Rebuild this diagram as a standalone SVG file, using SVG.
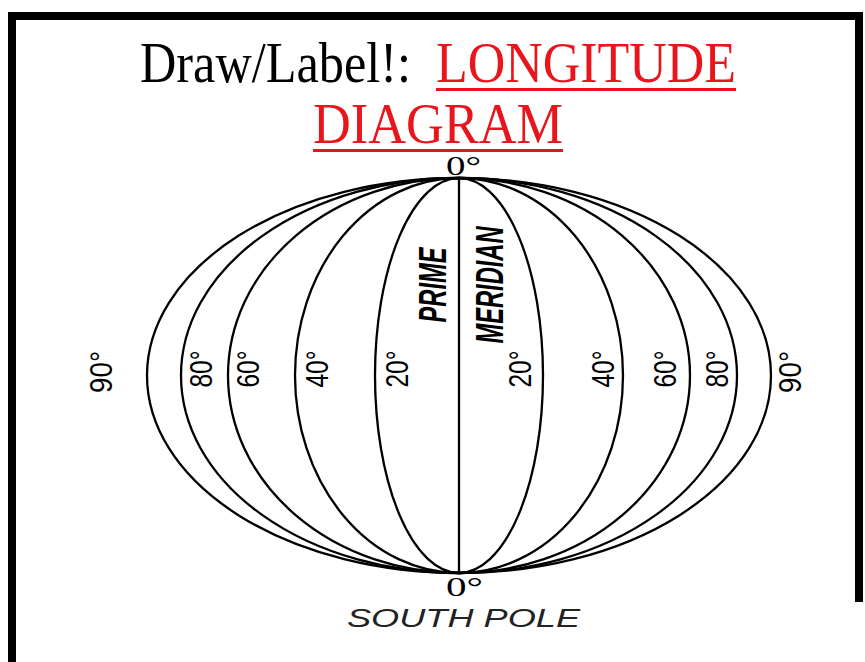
<svg xmlns="http://www.w3.org/2000/svg" width="865" height="662" viewBox="0 0 865 662">
<style>
.m{fill:none;stroke:#000;stroke-width:2.3}
.deg{font-family:"Liberation Sans",Arial,sans-serif;font-size:32px;fill:#000;text-anchor:middle}
.pm{font-family:"Liberation Sans",Arial,sans-serif;font-size:38px;font-weight:bold;font-style:italic;fill:#000;text-anchor:middle}
.t{font-family:"Liberation Serif","Times New Roman",serif;font-size:58px}
.red{fill:#e8161c}
.ul{fill:#e8161c}
.z{font-family:"Liberation Serif","Times New Roman",serif;font-size:27px;fill:#000}
.sp{font-family:"Liberation Sans",Arial,sans-serif;font-size:26px;font-style:italic;fill:#222}
</style>
<rect width="865" height="662" fill="#fff"/>
<g id="border" fill="#000">
<rect x="8" y="12" width="8" height="650"/>
<rect x="8" y="12" width="855" height="8"/>
<rect x="855" y="12" width="8" height="590"/>
</g>
<g id="poles">
<text class="z" x="446" y="175" textLength="35" lengthAdjust="spacingAndGlyphs">0°</text>
<text class="z" x="446" y="596" textLength="37" lengthAdjust="spacingAndGlyphs">0°</text>
<text class="sp" x="347" y="627" textLength="233" lengthAdjust="spacingAndGlyphs">SOUTH POLE</text>
</g>
<g id="title">
<text class="t" x="140" y="82" textLength="271" lengthAdjust="spacingAndGlyphs">Draw/Label!:</text>
<text class="t red" x="436" y="82" textLength="300" lengthAdjust="spacingAndGlyphs">LONGITUDE</text>
<rect class="ul" x="436" y="88" width="300" height="3"/>
<text class="t red" x="313" y="143" textLength="250" lengthAdjust="spacingAndGlyphs">DIAGRAM</text>
<rect class="ul" x="313" y="149" width="250" height="3"/>
</g>
<g id="connectors">
<ellipse class="m" cx="459" cy="375.5" rx="312" ry="197.5"/>
<ellipse class="m" cx="459" cy="375.5" rx="278" ry="197.5"/>
<ellipse class="m" cx="459" cy="375.5" rx="231" ry="197.5"/>
<ellipse class="m" cx="459" cy="375.5" rx="164" ry="197.5"/>
<ellipse class="m" cx="459" cy="375.5" rx="84" ry="197.5"/>
<line class="m" x1="459" y1="178" x2="459" y2="573"/>
</g>
<g id="labels">
<text class="deg" transform="translate(112,372) rotate(-90)" textLength="42" lengthAdjust="spacingAndGlyphs">90°</text>
<text class="deg" transform="translate(212,369) rotate(-90)" textLength="37" lengthAdjust="spacingAndGlyphs">80°</text>
<text class="deg" transform="translate(259,369) rotate(-90)" textLength="37" lengthAdjust="spacingAndGlyphs">60°</text>
<text class="deg" transform="translate(328,369) rotate(-90)" textLength="37" lengthAdjust="spacingAndGlyphs">40°</text>
<text class="deg" transform="translate(408,369) rotate(-90)" textLength="37" lengthAdjust="spacingAndGlyphs">20°</text>
<text class="deg" transform="translate(531,369) rotate(-90)" textLength="37" lengthAdjust="spacingAndGlyphs">20°</text>
<text class="deg" transform="translate(614,369) rotate(-90)" textLength="37" lengthAdjust="spacingAndGlyphs">40°</text>
<text class="deg" transform="translate(676,369) rotate(-90)" textLength="37" lengthAdjust="spacingAndGlyphs">60°</text>
<text class="deg" transform="translate(728,369) rotate(-90)" textLength="37" lengthAdjust="spacingAndGlyphs">80°</text>
<text class="deg" transform="translate(801,372) rotate(-90)" textLength="42" lengthAdjust="spacingAndGlyphs">90°</text>
<text class="pm" transform="translate(446,285) rotate(-90)" textLength="75" lengthAdjust="spacingAndGlyphs">PRIME</text>
<text class="pm" transform="translate(503,285) rotate(-90)" textLength="117" lengthAdjust="spacingAndGlyphs">MERIDIAN</text>
</g>
</svg>
